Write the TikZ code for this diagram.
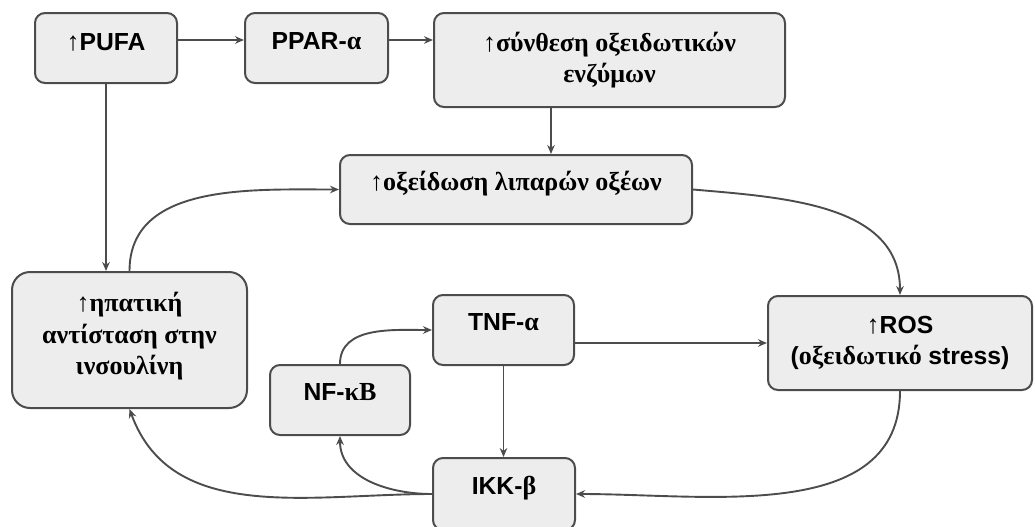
\documentclass[tikz,border=0pt]{standalone}
\usepackage{fontspec}
\setmainfont{Liberation Serif}
\setsansfont{Liberation Sans}[Scale=0.95]
\usetikzlibrary{arrows.meta}
\definecolor{boxfill}{HTML}{EDEDED}
\definecolor{boxline}{HTML}{4C4C4C}
\newcommand{\incr}{{\mdseries ↑}}
\tikzset{
  flow box/.style={draw=boxline,fill=boxfill,line width=1pt,rounded corners=5pt,align=center,inner sep=0pt},
  flow arrow/.style={draw=boxline,line width=.95pt,-{Stealth[length=4.5pt,width=3.8pt]}}
}

\begin{document}
\begin{tikzpicture}[x=.5pt,y=-.5pt,font=\bfseries\fontsize{13}{15.75}\selectfont]
  \useasboundingbox (0,0) rectangle (1035,526);
  \node[flow box,minimum width=71pt,minimum height=35pt,text depth=6.5pt] (pufa) at (106,48) {\incr\textsf{PUFA}};
  \node[flow box,minimum width=71.5pt,minimum height=35pt,text depth=7pt] (ppar) at (316.5,48) {\textsf{PPAR-}α};
  \node[flow box,minimum width=175.5pt,minimum height=47pt] (synth) at (609.5,60) {\incr σύνθεση οξειδωτικών\\ενζύμων};
  \node[flow box,minimum width=176pt,minimum height=34.5pt,text depth=8.5pt] (oxid) at (516,189.5) {\incr οξείδωση λιπαρών οξέων};
  \node[flow box,minimum width=117.5pt,minimum height=68pt,rounded corners=9pt,text depth=6.5pt] (resist) at (129.5,340) {\incr ηπατική\\αντίσταση στην\\ινσουλίνη};
  \node[flow box,minimum width=70.5pt,minimum height=35pt,text depth=8.5pt] (tnf) at (503.5,330) {\textsf{TNF-}α};
  \node[flow box,minimum width=70pt,minimum height=35pt,text depth=8pt] (nfkb) at (340,400) {\textsf{NF-}κB};
  \node[flow box,minimum width=71pt,minimum height=36pt,text depth=8.5pt] (ikk) at (504,494) {\textsf{IKK-}β};
  \node[flow box,minimum width=132pt,minimum height=47pt] (ros) at (900,343) {\incr\textsf{ROS}\\\textsf{(}οξειδωτικό \textsf{stress)}};

  \draw[flow arrow] ([yshift=4pt]pufa.east) -- ([yshift=4pt]ppar.west);
  \draw[flow arrow] ([yshift=4pt]ppar.east) -- ([yshift=4pt]ppar.east -| synth.west);
  \draw[flow arrow] ([xshift=-29.25pt]synth.south) -- ([xshift=-29.25pt]synth.south |- oxid.north);
  \draw[flow arrow] (pufa.south) -- (pufa.south |- resist.north);
  \draw[flow arrow] (tnf.east |- ros.west) -- (ros.west);
  \draw[flow arrow] (tnf.south) -- (tnf.south |- ikk.north);
  \draw[flow arrow] (resist.north) to[out=90,in=180] (oxid.west);
  \draw[flow arrow] (oxid.east) to[out=-5,in=90] (ros.north);
  \draw[flow arrow] (ros.south) to[out=-90,in=0] (ikk.east);
  \draw[flow arrow] (ikk.west) to[out=180,in=-90] (nfkb.south);
  \draw[flow arrow] (ikk.west) to[out=180,in=-70] (resist.south);
  \draw[flow arrow] (nfkb.north) to[out=90,in=180] (tnf.west);
\end{tikzpicture}
\end{document}
